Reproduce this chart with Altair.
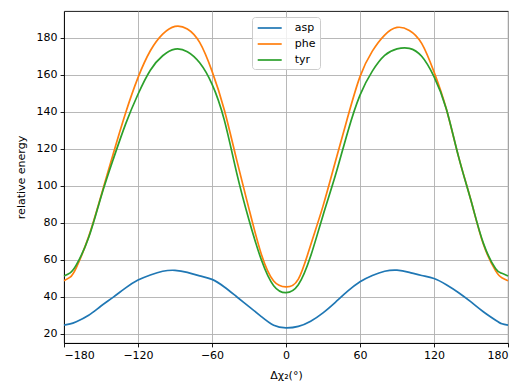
import altair as alt
import pandas as pd

angles = [-180, -175, -170, -160, -150, -140, -130, -120, -110, -100, -90, -80, -70, -60,
          -50, -40, -30, -20, -10, 0, 10, 20, 30, 40, 50, 60, 70, 80, 90, 100,
          110, 120, 130, 140, 150, 160, 170, 175, 180]

asp = [24.7, 25.3, 26.5, 30.0, 35.0, 39.8, 44.8, 49.0, 51.8, 53.8, 54.3, 53.2, 51.3, 49.4,
       45.3, 40.0, 34.7, 29.3, 24.6, 23.2, 24.0, 26.8, 31.3, 37.0, 43.0, 48.1, 51.5, 53.8, 54.4, 53.2,
       51.5, 49.9, 46.5, 42.2, 37.2, 31.9, 27.3, 25.4, 24.7]

phe = [48.7, 50.6, 55.8, 72.5, 94.5, 117.5, 139.5, 158.5, 173.0, 182.0, 186.2, 184.8, 177.5, 162.0,
       141.0, 114.0, 87.5, 63.0, 48.5, 45.3, 49.5, 68.0, 89.0, 113.0, 137.0, 159.0, 172.8, 181.5, 185.6, 184.0,
       177.0, 161.6, 141.5, 115.5, 92.0, 68.5, 54.0, 50.3, 48.7]

tyr = [51.2, 52.9, 57.2, 72.0, 94.0, 114.5, 133.5, 149.5, 162.5, 170.3, 173.9, 172.5, 166.5, 155.0,
       135.5, 107.0, 81.5, 60.0, 46.0, 42.2, 46.5, 62.0, 84.0, 105.5, 129.0, 149.0, 162.0, 170.5, 174.0, 174.3,
       170.0, 159.0, 141.5, 115.5, 92.0, 69.0, 55.2, 52.7, 51.2]

series_names = ["asp", "phe", "tyr"]
series_colors = ["#1f77b4", "#ff7f0e", "#2ca02c"]
x_ticks = [-180, -120, -60, 0, 60, 120, 180]
y_ticks = [20, 40, 60, 80, 100, 120, 140, 160, 180]

rows = []
for name, vals in zip(series_names, [asp, phe, tyr]):
    for a, v in zip(angles, vals):
        rows.append({"angle": a, "energy": v, "series": name})
df = pd.DataFrame(rows)

font = "DejaVu Sans"

chart = alt.Chart(df).mark_line(strokeWidth=1.7, interpolate="natural").encode(
    x=alt.X("angle:Q",
            scale=alt.Scale(domain=[-180, 180], nice=False, zero=False),
            axis=alt.Axis(values=x_ticks, title="Δχ₂(°)", titleX=222, titleY=35,
                          titleBaseline="alphabetic", labelPadding=3)),
    y=alt.Y("energy:Q",
            scale=alt.Scale(domain=[15.0, 194.5], nice=False, zero=False),
            axis=alt.Axis(values=y_ticks, title="relative energy", titleX=-43, titleY=166,
                          titleBaseline="middle", titleAngle=-90, labelPadding=3)),
    color=alt.Color("series:N",
                    scale=alt.Scale(domain=series_names, range=series_colors),
                    legend=alt.Legend(title=None, orient="none", legendX=188, legendY=6,
                                      symbolType="M-2,0H2", symbolSize=144,
                                      symbolStrokeWidth=1.7,
                                      padding=4, rowPadding=4, symbolOffset=6.7,
                                      labelOffset=18, labelFont=font, labelFontSize=11,
                                      labelColor="black",
                                      fillColor="rgba(255,255,255,0.8)",
                                      strokeColor="#cccccc", cornerRadius=3)),
).properties(
    width=444, height=332,
    autosize=alt.AutoSizeParams(type="none"),
    padding={"left": 56, "top": 3, "right": 3, "bottom": 40},
).configure_view(
    stroke="black", strokeWidth=0.9
).configure_axis(
    grid=True, gridColor="#b0b0b0", gridWidth=0.9,
    domainColor="black", domainWidth=0.9,
    tickColor="black", tickWidth=0.9, tickSize=3.9,
    labelFont=font, labelFontSize=11, labelColor="black",
    titleFont=font, titleFontSize=11, titleFontWeight="normal", titleColor="black",
)

chart.save("out.html", embed_options={"renderer": "svg", "actions": False})
